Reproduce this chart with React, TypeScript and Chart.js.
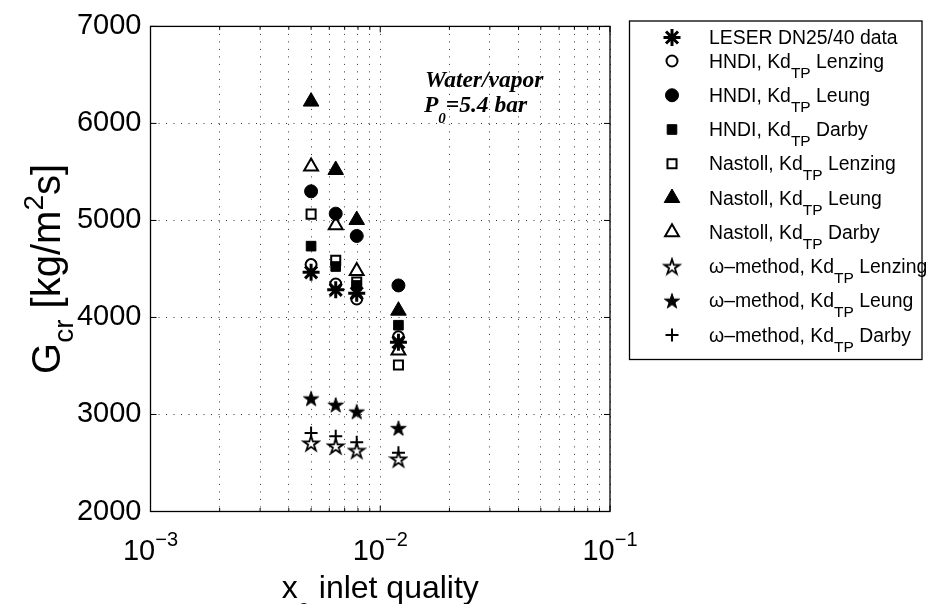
import React, { useEffect, useRef } from 'react';
import { Chart, registerables } from 'chart.js';
import { drawPoint } from 'chart.js/helpers';

Chart.register(...registerables);

// ---------- data ----------
const xQuality = [0.005, 0.0064, 0.0079, 0.012];

const leserMeasured = [4465, 4285, 4250, 3745];
const hndiLenzing = [4545, 4345, 4190, 3800];
const hndiLeung = [5300, 5070, 4840, 4330];
const hndiDarby = [4735, 4525, 4330, 3920];
const nastollLenzing = [5065, 4590, 4365, 3510];
const nastollLeung = [6225, 5520, 5005, 4070];
const nastollDarby = [5555, 4950, 4480, 3660];
const omegaLenzing = [2705, 2675, 2630, 2540];
const omegaLeung = [3165, 3100, 3030, 2860];
const omegaDarby = [2810, 2775, 2715, 2605];

const yTickValues = [2000, 3000, 4000, 5000, 6000, 7000];
const yTickTexts = ['2000', '3000', '4000', '5000', '6000', '7000'];
const xGridValues = [
  0.001, 0.002, 0.003, 0.004, 0.005, 0.006, 0.007, 0.008, 0.009,
  0.01, 0.02, 0.03, 0.04, 0.05, 0.06, 0.07, 0.08, 0.09, 0.1,
];
const xLabelValues = [0.001, 0.01, 0.1];
const xLabelTexts = ['10^{−3}', '10^{−2}', '10^{−1}'];

const legendLabels = [
  'LESER DN25/40 data',
  'HNDI, Kd_{TP} Lenzing',
  'HNDI, Kd_{TP} Leung',
  'HNDI, Kd_{TP} Darby',
  'Nastoll, Kd_{TP} Lenzing',
  'Nastoll, Kd_{TP} Leung',
  'Nastoll, Kd_{TP} Darby',
  'ω–method, Kd_{TP} Lenzing',
  'ω–method, Kd_{TP} Leung',
  'ω–method, Kd_{TP} Darby',
];

const xAxisTitle = 'x_{0} inlet quality';
const yAxisTitle = 'G_{cr} [kg/m^{2}s]';
const noteLines = ['Water/vapor', 'P_{0}=5.4 bar'];

const seriesValues = [
  leserMeasured, hndiLenzing, hndiLeung, hndiDarby, nastollLenzing,
  nastollLeung, nastollDarby, omegaLenzing, omegaLeung, omegaDarby,
];

// ---------- helpers ----------
type Seg = { t: string; kind: 'n' | 'sub' | 'sup' };
function parseRich(s: string): Seg[] {
  const out: Seg[] = [];
  const re = /([_^])\{([^}]*)\}/g;
  let last = 0;
  let m: RegExpExecArray | null;
  while ((m = re.exec(s))) {
    if (m.index > last) out.push({ t: s.slice(last, m.index), kind: 'n' });
    out.push({ t: m[2], kind: m[1] === '_' ? 'sub' : 'sup' });
    last = re.lastIndex;
  }
  if (last < s.length) out.push({ t: s.slice(last), kind: 'n' });
  return out;
}

type RichOpts = {
  size: number; family: string; weight?: string; italic?: boolean;
  subSize: number; subDy: number; supDy: number; align: 'left' | 'center';
};
function drawRich(ctx: CanvasRenderingContext2D, text: string, x: number, y: number, o: RichOpts) {
  const segs = parseRich(text);
  const fontFor = (sz: number) => `${o.italic ? 'italic ' : ''}${o.weight || 'normal'} ${sz}px ${o.family}`;
  const widths: number[] = [];
  let total = 0;
  for (const s of segs) {
    ctx.font = fontFor(s.kind === 'n' ? o.size : o.subSize);
    const w = ctx.measureText(s.t).width;
    widths.push(w);
    total += w;
  }
  let cx = o.align === 'center' ? x - total / 2 : x;
  ctx.textAlign = 'left';
  ctx.textBaseline = 'alphabetic';
  segs.forEach((s, i) => {
    ctx.font = fontFor(s.kind === 'n' ? o.size : o.subSize);
    const dy = s.kind === 'sub' ? o.subDy : s.kind === 'sup' ? o.supDy : 0;
    ctx.fillText(s.t, cx, y + dy);
    cx += widths[i];
  });
}

function makeStar(filled: boolean): HTMLCanvasElement {
  const size = 20;
  const c = document.createElement('canvas');
  c.width = size;
  c.height = size;
  const g = c.getContext('2d')!;
  const R = 8;
  const r = R * 0.382;
  const cx = size / 2;
  const cy = size / 2 + 0.76;
  g.beginPath();
  for (let i = 0; i < 10; i++) {
    const a = -Math.PI / 2 + (i * Math.PI) / 5;
    const rad = i % 2 === 0 ? R : r;
    g.lineTo(cx + rad * Math.cos(a), cy + rad * Math.sin(a));
  }
  g.closePath();
  g.fillStyle = filled ? '#000' : '#fff';
  g.fill();
  g.lineWidth = filled ? 1 : 1.8;
  g.lineJoin = 'miter';
  g.strokeStyle = '#000';
  g.stroke();
  return c;
}

const SANS = '"Liberation Sans", Arial, Helvetica, sans-serif';
const SERIF = '"Liberation Serif", "Times New Roman", serif';

const decorPlugin = {
  id: 'decor',
  afterDraw(chart: any) {
    const ctx: CanvasRenderingContext2D = chart.ctx;
    const ca = chart.chartArea;
    const xs = chart.scales.x;
    const ys = chart.scales.y;
    ctx.save();
    ctx.setLineDash([]);
    ctx.strokeStyle = '#000';
    ctx.fillStyle = '#000';

    // frame
    ctx.lineWidth = 1.3;
    ctx.strokeRect(ca.left, ca.top, ca.right - ca.left, ca.bottom - ca.top);

    // inward ticks
    ctx.lineWidth = 1;
    ctx.beginPath();
    for (const v of yTickValues) {
      const py = ys.getPixelForValue(v);
      ctx.moveTo(ca.left, py); ctx.lineTo(ca.left + 6, py);
      ctx.moveTo(ca.right, py); ctx.lineTo(ca.right - 6, py);
    }
    for (const v of xGridValues) {
      const px = xs.getPixelForValue(v);
      const len = xLabelValues.includes(v) ? 6 : 3.5;
      ctx.moveTo(px, ca.bottom); ctx.lineTo(px, ca.bottom - len);
      ctx.moveTo(px, ca.top); ctx.lineTo(px, ca.top + len);
    }
    ctx.stroke();

    // x tick labels
    xLabelValues.forEach((v, i) => {
      const px = xs.getPixelForValue(v);
      drawRich(ctx, xLabelTexts[i], px, 560, {
        size: 29, family: SANS, subSize: 20, subDy: 10, supDy: -14, align: 'center',
      });
    });

    // axis titles
    drawRich(ctx, xAxisTitle, (ca.left + ca.right) / 2, 598, {
      size: 32, family: SANS, subSize: 22, subDy: 20, supDy: -14, align: 'center',
    });
    ctx.save();
    ctx.translate(60, (ca.top + ca.bottom) / 2);
    ctx.rotate(-Math.PI / 2);
    drawRich(ctx, yAxisTitle, 0, 0, {
      size: 40, family: SANS, subSize: 28, subDy: 13, supDy: -17, align: 'center',
    });
    ctx.restore();

    // annotation
    const noteOpts: RichOpts = {
      size: 23.5, family: SERIF, weight: 'bold', italic: true, subSize: 15, subDy: 11, supDy: -10, align: 'left',
    };
    drawRich(ctx, noteLines[0], 425, 87, noteOpts);
    drawRich(ctx, noteLines[1], 424, 112, noteOpts);

    // legend
    const bx = 629.5, by = 21, bw = 292.5, bh = 338.5;
    ctx.fillStyle = '#fff';
    ctx.fillRect(bx, by, bw, bh);
    ctx.lineWidth = 1.3;
    ctx.strokeStyle = '#000';
    ctx.strokeRect(bx, by, bw, bh);
    chart.data.datasets.forEach((ds: any, i: number) => {
      const rowY = i === 0 ? 37.5 : 61 + (i - 1) * 34.25;
      ctx.save();
      ctx.fillStyle = ds.pointBackgroundColor;
      ctx.strokeStyle = ds.pointBorderColor;
      ctx.lineWidth = ds.pointBorderWidth;
      drawPoint(ctx, {
        pointStyle: ds.pointStyle, rotation: 0, radius: ds.pointRadius, borderWidth: ds.pointBorderWidth,
      } as any, 672, rowY);
      ctx.restore();
      ctx.fillStyle = '#000';
      drawRich(ctx, legendLabels[i], 709, rowY + 6.5, {
        size: 19.4, family: SANS, subSize: 15.5, subDy: 10, supDy: -8, align: 'left',
      });
    });

    ctx.restore();
  },
};

export default function App() {
  const canvasRef = useRef<HTMLCanvasElement | null>(null);

  useEffect(() => {
    if (!canvasRef.current) return;
    const starFilled = makeStar(true);
    const starOpen = makeStar(false);
    const markerStyles: { style: any; r: number; fill: string; bw: number }[] = [
      { style: 'star', r: 8.5, fill: '#000', bw: 3 },
      { style: 'circle', r: 5.5, fill: '#fff', bw: 2 },
      { style: 'circle', r: 6.5, fill: '#000', bw: 1 },
      { style: 'rect', r: 6.8, fill: '#000', bw: 1 },
      { style: 'rect', r: 6.4, fill: '#fff', bw: 2 },
      { style: 'triangle', r: 9, fill: '#000', bw: 1 },
      { style: 'triangle', r: 8, fill: '#fff', bw: 2 },
      { style: starOpen, r: 8, fill: '#fff', bw: 0 },
      { style: starFilled, r: 8, fill: '#000', bw: 0 },
      { style: 'cross', r: 6.5, fill: '#000', bw: 2 },
    ];

    const datasets = seriesValues.map((vals, i) => ({
      label: legendLabels[i],
      data: vals.map((v, j) => ({ x: xQuality[j], y: v })),
      showLine: false,
      pointStyle: markerStyles[i].style,
      pointRadius: markerStyles[i].r,
      pointHoverRadius: markerStyles[i].r,
      pointBackgroundColor: markerStyles[i].fill,
      pointBorderColor: '#000',
      pointBorderWidth: markerStyles[i].bw,
    }));

    const gridColor = 'rgba(0,0,0,0.8)';
    const chart = new Chart(canvasRef.current, {
      type: 'scatter',
      data: { datasets },
      plugins: [decorPlugin],
      options: {
        animation: false,
        responsive: true,
        maintainAspectRatio: false,
        layout: { padding: { top: 21, right: 323, bottom: 0, left: 0 } },
        plugins: { legend: { display: false }, tooltip: { enabled: false } },
        scales: {
          x: {
            type: 'logarithmic',
            min: 0.001,
            max: 0.1,
            afterBuildTicks: (s: any) => {
              s.ticks = xGridValues.map((v) => ({ value: v }));
            },
            afterFit: (s: any) => { s.height = 92.5; },
            ticks: { display: false },
            grid: { color: gridColor, lineWidth: 1, drawTicks: false },
            border: { display: false, dash: [1, 6.5] },
          },
          y: {
            type: 'linear',
            min: 2000,
            max: 7000,
            afterBuildTicks: (s: any) => {
              s.ticks = yTickValues.map((v) => ({ value: v }));
            },
            afterFit: (s: any) => { s.width = 150.5; },
            ticks: {
              color: '#000',
              padding: 9,
              font: { family: SANS, size: 29 },
              autoSkip: false,
              callback: (v: any) => {
                const idx = yTickValues.indexOf(Number(v));
                return idx >= 0 ? yTickTexts[idx] : '';
              },
            },
            grid: { color: gridColor, lineWidth: 1, drawTicks: false },
            border: { display: false, dash: [1, 6.5] },
          },
        },
      } as any,
    });
    return () => chart.destroy();
  }, []);

  return (
    <div style={{ position: 'absolute', left: 0, top: 0, width: 933, height: 604, background: '#fff' }}>
      <canvas ref={canvasRef} />
    </div>
  );
}
